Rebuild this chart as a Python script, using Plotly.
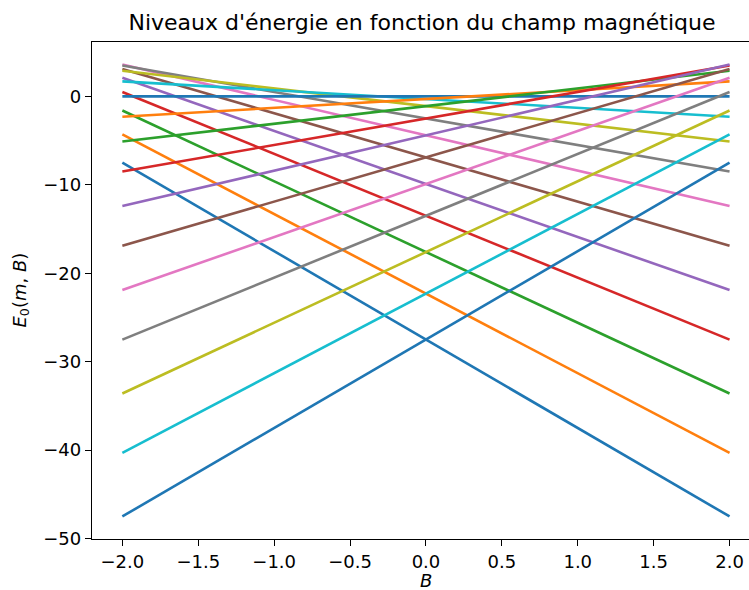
import plotly.graph_objects as go

# Field values where the levels were read
B_values = [-2.0, 0.0, 2.0]

# Quantum numbers m (one line each)
m_values = list(range(-10, 11))

# E_0(m, B) at B = -2, 0, 2
E_m_neg10 = [-7.5, -27.5, -47.5]
E_m_neg9 = [-4.3, -22.3, -40.3]
E_m_neg8 = [-1.6, -17.6, -33.6]
E_m_neg7 = [0.5, -13.5, -27.5]
E_m_neg6 = [2.1, -9.9, -21.9]
E_m_neg5 = [3.1, -6.9, -16.9]
E_m_neg4 = [3.6, -4.4, -12.4]
E_m_neg3 = [3.5, -2.5, -8.5]
E_m_neg2 = [2.9, -1.1, -5.1]
E_m_neg1 = [1.7, -0.3, -2.3]
E_m_0 = [0.0, 0.0, 0.0]
E_m_1 = [-2.3, -0.3, 1.7]
E_m_2 = [-5.1, -1.1, 2.9]
E_m_3 = [-8.5, -2.5, 3.5]
E_m_4 = [-12.4, -4.4, 3.6]
E_m_5 = [-16.9, -6.9, 3.1]
E_m_6 = [-21.9, -9.9, 2.1]
E_m_7 = [-27.5, -13.5, 0.5]
E_m_8 = [-33.6, -17.6, -1.6]
E_m_9 = [-40.3, -22.3, -4.3]
E_m_10 = [-47.5, -27.5, -7.5]

levels = [E_m_neg10, E_m_neg9, E_m_neg8, E_m_neg7, E_m_neg6, E_m_neg5, E_m_neg4,
          E_m_neg3, E_m_neg2, E_m_neg1, E_m_0, E_m_1, E_m_2, E_m_3, E_m_4, E_m_5,
          E_m_6, E_m_7, E_m_8, E_m_9, E_m_10]

x_ticks = [-2.0, -1.5, -1.0, -0.5, 0.0, 0.5, 1.0, 1.5, 2.0]
y_ticks = [-50, -40, -30, -20, -10, 0]

colors = ["#1f77b4", "#ff7f0e", "#2ca02c", "#d62728", "#9467bd",
          "#8c564b", "#e377c2", "#7f7f7f", "#bcbd22", "#17becf"]

fig = go.Figure()
for i, (m, E) in enumerate(zip(m_values, levels)):
    fig.add_trace(go.Scatter(x=B_values, y=E, mode="lines",
                             line=dict(color=colors[i % 10], width=2.6),
                             name=f"m={m}", showlegend=False))

W, H = 749, 590
L, T, Bm = 92, 42, 51
fig.update_layout(
    width=W, height=H,
    margin=dict(l=L, r=0, t=T, b=Bm),
    plot_bgcolor="white", paper_bgcolor="white",
    font=dict(family="DejaVu Sans", size=18, color="black"),
    title=dict(text="Niveaux d'énergie en fonction du champ magnétique",
               xref="container", x=422 / W, xanchor="center",
               yref="container", y=1 - 22 / H, yanchor="middle",
               font=dict(size=22, family="DejaVu Sans")),
    xaxis=dict(range=[-2.2, -2.2 + (W - L) / 151.8], tickvals=x_ticks,
               ticktext=[f"{v:.1f}".replace("-", "\u2212") for v in x_ticks],
               showgrid=False, zeroline=False, showline=True, linecolor="black",
               linewidth=1.4, mirror=True, ticks="outside", ticklen=6,
               tickwidth=1.4, tickcolor="black"),
    yaxis=dict(range=[-50.05, 6.15], tickvals=y_ticks,
               ticktext=[str(v).replace("-", "\u2212") for v in y_ticks],
               showgrid=False, zeroline=False, showline=True, linecolor="black",
               linewidth=1.4, ticks="outside", ticklen=6, tickwidth=1.4,
               tickcolor="black"),
    annotations=[
        dict(text="<i>B</i>", xref="paper", yref="paper",
             x=(425.7 - L) / (W - L), y=-(580 - (H - Bm)) / (H - T - Bm),
             xanchor="center", yanchor="middle", showarrow=False,
             font=dict(size=18)),
        dict(text="<i>E</i><sub>0</sub>(<i>m</i>, <i>B</i>)", xref="paper", yref="paper",
             x=-(L - 20) / (W - L), y=0.5, textangle=-90,
             xanchor="center", yanchor="middle", showarrow=False,
             font=dict(size=18)),
    ],
)

fig.write_html("out.html", config={"displayModeBar": False},
               post_script="document.body.style.margin='0';document.body.style.padding='0';")
